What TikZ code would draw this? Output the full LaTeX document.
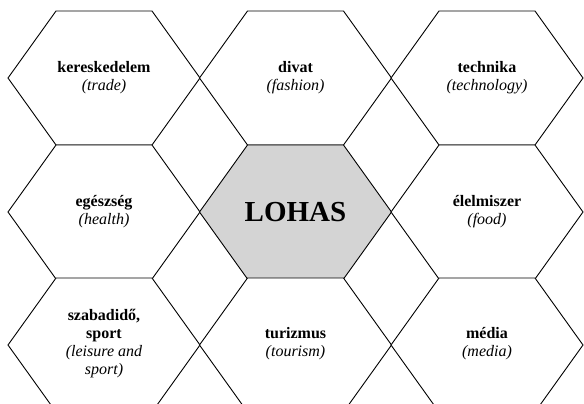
\documentclass[tikz,border=0pt]{standalone}
\usepackage{fontspec}
\setmainfont{Liberation Serif}
\usepackage{tikz}

\definecolor{lohasgray}{RGB}{212,212,212}
\tikzset{
	hexa/.style={draw=black, line width=0.9pt},
	hexlabel/.style={align=center, font=\fontsize{16}{18}\selectfont}
}

\begin{document}
\begin{tikzpicture}[x=1pt,y=-1pt]
	\useasboundingbox (0,0) rectangle (584,404);
	\clip (0,0) rectangle (584,404);

	% the nine cells, row by row
	\foreach \cx/\cy/\fc in {104/78/white, 295.5/78/white, 487/78/white,
	                         104/212/white, 295.5/212/lohasgray, 487/212/white,
	                         104/345/white, 295.5/345/white, 487/345/white}
		\filldraw[hexa, fill=\fc] (\cx,\cy) ++(-96,0) -- ++(48,-67) -- ++(96,0)
			-- ++(48,67) -- ++(-48,67) -- ++(-96,0) -- cycle;

	\node[hexlabel] (trade)   at (104, 78)   {\textbf{kereskedelem}\\\textit{(trade)}};
	\node[hexlabel] (fashion) at (295.5, 78) {\textbf{divat}\\\textit{(fashion)}};
	\node[hexlabel] (tech)    at (487, 78)   {\textbf{technika}\\\textit{(technology)}};
	\node[hexlabel] (health)  at (104, 212)  {\textbf{egészség}\\\textit{(health)}};
	\node[hexlabel, font=\fontsize{29}{32}\selectfont\bfseries] (lohas) at (295.5, 212) {LOHAS};
	\node[hexlabel] (food)    at (487, 212)  {\textbf{élelmiszer}\\\textit{(food)}};
	\node[hexlabel] (leisure) at (104, 344)  {\textbf{szabadidő,}\\\textbf{sport}\\\textit{(leisure and}\\\textit{sport)}};
	\node[hexlabel] (tourism) at (295.5, 344) {\textbf{turizmus}\\\textit{(tourism)}};
	\node[hexlabel] (media)   at (487, 344)  {\textbf{média}\\\textit{(media)}};

\end{tikzpicture}
\end{document}
